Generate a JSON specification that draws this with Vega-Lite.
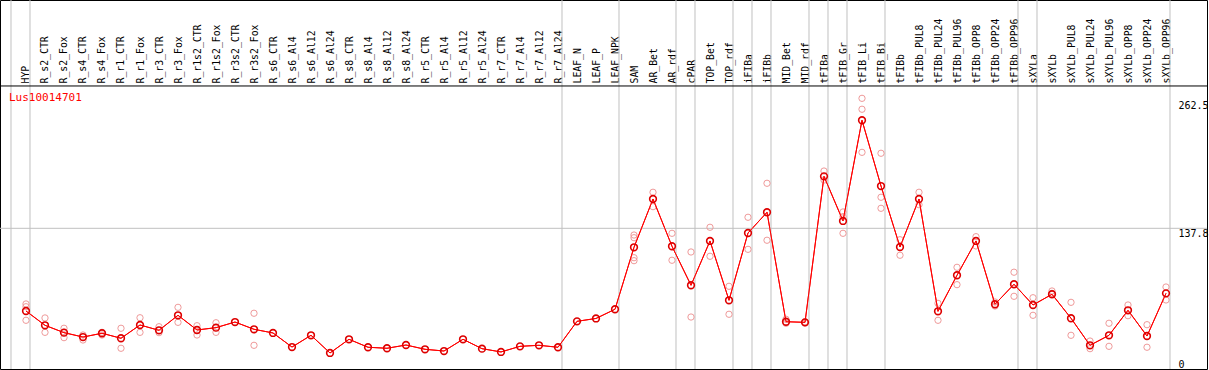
{
  "$schema": "https://vega.github.io/schema/vega-lite/v6.json",
  "width": 1207,
  "height": 369,
  "autosize": {"type": "none"},
  "padding": {"left": 0, "top": 0, "right": 2, "bottom": 1},
  "background": "white",
  "config": {"view": {"stroke": "black", "strokeWidth": 1}, "axis": {"labelOverlap": false, "labelBound": false, "labelFlush": false}},
  "title": {"text": "Lus10014701", "orient": "bottom", "anchor": "start", "frame": "group", "offset": -278, "dx": 9, "color": "#ff0000", "font": "DejaVu Sans Mono", "fontSize": 11, "fontWeight": "normal"},
  "datasets": {
    "means": [
      {"i":0,"sample":"HYP","v":56.8},{"i":1,"sample":"R_s2_CTR","v":42.8},{"i":2,"sample":"R_s2_Fox","v":35.6},{"i":3,"sample":"R_s4_CTR","v":31.3},{"i":4,"sample":"R_s4_Fox","v":35.0},{"i":5,"sample":"R_r1_CTR","v":30.1},{"i":6,"sample":"R_r1_Fox","v":43.1},{"i":7,"sample":"R_r3_CTR","v":37.9},{"i":8,"sample":"R_r3_Fox","v":52.6},{"i":9,"sample":"R_r1s2_CTR","v":38.2},{"i":10,"sample":"R_r1s2_Fox","v":40.5},{"i":11,"sample":"R_r3s2_CTR","v":46.0},{"i":12,"sample":"R_r3s2_Fox","v":38.9},{"i":13,"sample":"R_s6_CTR","v":35.3},{"i":14,"sample":"R_s6_Al4","v":21.5},{"i":15,"sample":"R_s6_Al12","v":33.0},{"i":16,"sample":"R_s6_Al24","v":15.7},{"i":17,"sample":"R_s8_CTR","v":29.1},{"i":18,"sample":"R_s8_Al4","v":21.3},{"i":19,"sample":"R_s8_Al12","v":20.3},{"i":20,"sample":"R_s8_Al24","v":23.5},{"i":21,"sample":"R_r5_CTR","v":19.3},{"i":22,"sample":"R_r5_Al4","v":17.6},{"i":23,"sample":"R_r5_Al12","v":29.1},{"i":24,"sample":"R_r5_Al24","v":19.9},{"i":25,"sample":"R_r7_CTR","v":16.7},{"i":26,"sample":"R_r7_Al4","v":22.2},{"i":27,"sample":"R_r7_Al12","v":23.2},{"i":28,"sample":"R_r7_Al24","v":21.3},{"i":29,"sample":"LEAF_N","v":46.7},{"i":30,"sample":"LEAF_P","v":49.5},{"i":31,"sample":"LEAF_NPK","v":58.5},{"i":32,"sample":"SAM","v":119.2},{"i":33,"sample":"AR_Bet","v":166.5},{"i":34,"sample":"AR_rdf","v":120.2},{"i":35,"sample":"cPAR","v":82.0},{"i":36,"sample":"TOP_Bet","v":125.4},{"i":37,"sample":"TOP_rdf","v":67.3},{"i":38,"sample":"iFIBa","v":133.2},{"i":39,"sample":"iFIBb","v":153.5},{"i":40,"sample":"MID_Bet","v":46.3},{"i":41,"sample":"MID_rdf","v":45.7},{"i":42,"sample":"tFIBa","v":188.7},{"i":43,"sample":"tFIB_Gr","v":145.0},{"i":44,"sample":"tFIB_Li","v":243.6},{"i":45,"sample":"tFIB_Bi","v":179.2},{"i":46,"sample":"tFIBb","v":119.5},{"i":47,"sample":"tFIBb_PUL8","v":166.5},{"i":48,"sample":"tFIBb_PUL24","v":56.5},{"i":49,"sample":"tFIBb_PUL96","v":91.8},{"i":50,"sample":"tFIBb_OPP8","v":125.4},{"i":51,"sample":"tFIBb_OPP24","v":63.4},{"i":52,"sample":"tFIBb_OPP96","v":83.0},{"i":53,"sample":"sXYLa","v":62.7},{"i":54,"sample":"sXYLb","v":73.2},{"i":55,"sample":"sXYLb_PUL8","v":49.7},{"i":56,"sample":"sXYLb_PUL24","v":23.2},{"i":57,"sample":"sXYLb_PUL96","v":33.0},{"i":58,"sample":"sXYLb_OPP8","v":57.5},{"i":59,"sample":"sXYLb_OPP24","v":32.3},{"i":60,"sample":"sXYLb_OPP96","v":74.1}
    ],
    "reps": [
      {"i":0,"v":63.7},{"i":0,"v":61.0},{"i":0,"v":47.7},
      {"i":1,"v":50.0},{"i":1,"v":35.9},
      {"i":2,"v":39.9},{"i":2,"v":36.0},{"i":2,"v":30.7},
      {"i":3,"v":33.3},{"i":3,"v":28.4},
      {"i":4,"v":35.9},{"i":4,"v":33.3},
      {"i":5,"v":39.9},{"i":5,"v":20.3},
      {"i":6,"v":50.2},{"i":6,"v":35.9},
      {"i":7,"v":41.4},{"i":7,"v":35.6},
      {"i":8,"v":60.4},{"i":8,"v":45.7},
      {"i":9,"v":42.4},{"i":9,"v":33.3},
      {"i":10,"v":45.3},{"i":10,"v":35.9},
      {"i":12,"v":54.6},{"i":12,"v":23.2},
      {"i":32,"v":131.2},{"i":32,"v":128.6},{"i":32,"v":109.0},{"i":32,"v":106.1},
      {"i":33,"v":173.1},{"i":33,"v":159.0},
      {"i":34,"v":132.9},{"i":34,"v":106.5},
      {"i":35,"v":114.6},{"i":35,"v":50.9},
      {"i":36,"v":138.8},{"i":36,"v":110.4},
      {"i":37,"v":81.0},{"i":37,"v":53.6},
      {"i":38,"v":148.6},{"i":38,"v":117.2},
      {"i":39,"v":181.9},{"i":39,"v":126.1},
      {"i":40,"v":48.7},{"i":40,"v":44.8},
      {"i":41,"v":46.3},{"i":41,"v":45.1},
      {"i":42,"v":193.9},{"i":42,"v":185.1},
      {"i":43,"v":153.8},{"i":43,"v":149.2},{"i":43,"v":132.9},
      {"i":44,"v":265.1},{"i":44,"v":254.4},{"i":44,"v":212.2},
      {"i":45,"v":211.3},{"i":45,"v":168.2},{"i":45,"v":157.4},
      {"i":46,"v":126.6},{"i":46,"v":111.4},
      {"i":47,"v":173.1},{"i":47,"v":160.9},
      {"i":48,"v":64.3},{"i":48,"v":47.7},
      {"i":49,"v":99.6},{"i":49,"v":82.6},
      {"i":50,"v":129.6},{"i":50,"v":120.5},
      {"i":51,"v":65.6},{"i":51,"v":61.7},
      {"i":52,"v":94.8},{"i":52,"v":71.2},
      {"i":53,"v":69.8},{"i":53,"v":52.6},
      {"i":54,"v":76.4},{"i":54,"v":74.1},
      {"i":55,"v":65.3},{"i":55,"v":33.0},
      {"i":56,"v":27.4},{"i":56,"v":19.9},
      {"i":57,"v":44.8},{"i":57,"v":22.2},
      {"i":58,"v":62.7},{"i":58,"v":52.2},
      {"i":59,"v":43.4},{"i":59,"v":21.3},
      {"i":60,"v":80.3},{"i":60,"v":67.6}
    ],
    "bounds": [
      {"b":-0.79},{"b":0.21},{"b":28.21},{"b":31.21},{"b":34.21},{"b":35.21},{"b":37.21},{"b":38.21},{"b":39.21},{"b":41.21},{"b":42.21},{"b":43.21},{"b":45.21},{"b":52.21},{"b":53.21},{"b":60.21}
    ]
  },
  "layer": [
    {
      "data": {"name": "means"},
      "mark": {"type": "line", "color": "#ff0000", "strokeWidth": 1},
      "encoding": {
        "x": {"field": "i", "type": "quantitative", "scale": {"domain": [-1.36842, 62.15789], "nice": false, "zero": false},
          "axis": {"orient": "top", "offset": -86, "title": null, "tickCount": 200, "values": [0,1,2,3,4,5,6,7,8,9,10,11,12,13,14,15,16,17,18,19,20,21,22,23,24,25,26,27,28,29,30,31,32,33,34,35,36,37,38,39,40,41,42,43,44,45,46,47,48,49,50,51,52,53,54,55,56,57,58,59,60],
            "labelExpr": "['HYP','R_s2_CTR','R_s2_Fox','R_s4_CTR','R_s4_Fox','R_r1_CTR','R_r1_Fox','R_r3_CTR','R_r3_Fox','R_r1s2_CTR','R_r1s2_Fox','R_r3s2_CTR','R_r3s2_Fox','R_s6_CTR','R_s6_Al4','R_s6_Al12','R_s6_Al24','R_s8_CTR','R_s8_Al4','R_s8_Al12','R_s8_Al24','R_r5_CTR','R_r5_Al4','R_r5_Al12','R_r5_Al24','R_r7_CTR','R_r7_Al4','R_r7_Al12','R_r7_Al24','LEAF_N','LEAF_P','LEAF_NPK','SAM','AR_Bet','AR_rdf','cPAR','TOP_Bet','TOP_rdf','iFIBa','iFIBb','MID_Bet','MID_rdf','tFIBa','tFIB_Gr','tFIB_Li','tFIB_Bi','tFIBb','tFIBb_PUL8','tFIBb_PUL24','tFIBb_PUL96','tFIBb_OPP8','tFIBb_OPP24','tFIBb_OPP96','sXYLa','sXYLb','sXYLb_PUL8','sXYLb_PUL24','sXYLb_PUL96','sXYLb_OPP8','sXYLb_OPP24','sXYLb_OPP96'][datum.value]",
            "labelAngle": -90, "labelAlign": "left", "labelBaseline": "middle", "labelPadding": 3,
            "labelFont": "DejaVu Sans Mono", "labelFontSize": 9.8, "labelColor": "black",
            "labelOverlap": false, "labelFlush": false, "labelBound": false, "labelSeparation": 0,
            "ticks": false, "domain": false, "grid": false}},
        "y": {"field": "v", "type": "quantitative", "scale": {"domain": [0, 361.4], "nice": false, "zero": false},
          "axis": {"orient": "right", "offset": -29, "title": null, "tickCount": 20, "values": [0, 137.8, 262.5], "format": ".1~f",
            "labelPadding": 0, "labelAlign": "left",
            "labelBaseline": {"condition": {"test": "datum.value == 0", "value": "bottom"}, "value": "top"},
            "labelFont": "DejaVu Sans Mono", "labelFontSize": 10, "labelColor": "black",
            "labelOverlap": false, "labelFlush": false, "labelBound": false,
            "ticks": false, "domain": false, "grid": false}}
      }
    },
    {
      "data": {"name": "bounds"},
      "mark": {"type": "rule", "color": "#c0c0c0", "strokeWidth": 1},
      "encoding": {
        "x": {"field": "b", "type": "quantitative"}
      }
    },
    {
      "data": {"values": [{}]},
      "mark": {"type": "rule", "color": "#c0c0c0", "strokeWidth": 1},
      "encoding": {"y": {"datum": 137.8, "type": "quantitative"}}
    },
    {
      "data": {"values": [{}]},
      "mark": {"type": "rule", "color": "black", "strokeWidth": 1},
      "encoding": {"y": {"datum": 277.2, "type": "quantitative"}}
    },
    {
      "data": {"name": "reps"},
      "mark": {"type": "point", "shape": "circle", "filled": false, "color": "#ef9a9a", "strokeWidth": 1, "size": 40, "opacity": 1},
      "encoding": {
        "x": {"field": "i", "type": "quantitative"},
        "y": {"field": "v", "type": "quantitative"}
      }
    },
    {
      "data": {"name": "means"},
      "mark": {"type": "line", "color": "#ff0000", "strokeWidth": 1},
      "encoding": {
        "x": {"field": "i", "type": "quantitative"},
        "y": {"field": "v", "type": "quantitative"}
      }
    },
    {
      "data": {"name": "means"},
      "mark": {"type": "point", "shape": "circle", "filled": false, "color": "#dd0000", "strokeWidth": 1.6, "size": 45, "opacity": 1},
      "encoding": {
        "x": {"field": "i", "type": "quantitative"},
        "y": {"field": "v", "type": "quantitative"}
      }
    }
  ]
}
